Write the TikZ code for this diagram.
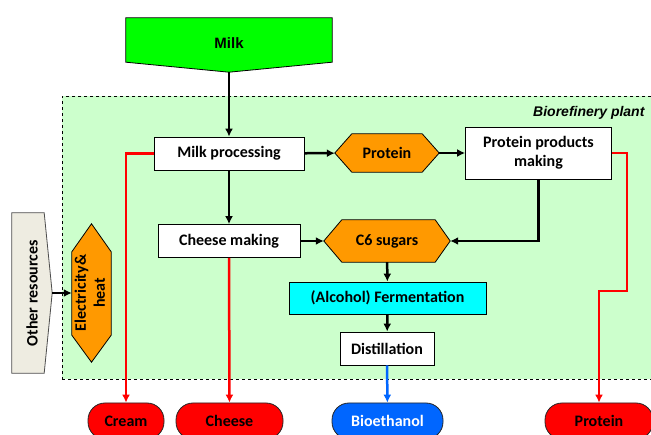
\documentclass[tikz,border=0pt]{standalone}
\usepackage{fontspec}
\setmainfont{Carlito}
\newfontfamily\arialfont{Liberation Sans}
\usepackage{graphicx}
\usetikzlibrary{positioning, arrows.meta, backgrounds}
\definecolor{plantgreen}{HTML}{CCFFCC}
\definecolor{milkgreen}{HTML}{00FF00}
\definecolor{hexorange}{HTML}{FF9900}
\definecolor{fermcyan}{HTML}{00FFFF}
\definecolor{etohblue}{HTML}{0066FF}
\definecolor{resgray}{HTML}{EEECE1}

\begin{document}
\begin{tikzpicture}[x=1pt, y=-1pt, font=\fontsize{16}{19}\selectfont\bfseries,
    procbox/.style={draw, fill=white, line width=0.8pt, inner sep=2pt, align=center},
    shapetext/.style={inner sep=0pt, align=center},
    outline/.style={draw, line width=0.8pt},
    product/.style={draw=black!85, rounded corners=17pt, minimum height=36pt, line width=0.8pt, inner sep=0pt},
    flow/.style={line width=2.5pt, arrows={-Latex[width=8pt, length=8pt]}},
    outflow/.style={flow, red},
    etohflow/.style={flow, etohblue}]
      \clip (0,0) rectangle (651,435);
      \node[font=\fontsize{14}{16}\selectfont\arialfont\bfseries\itshape, anchor=east] at (648,113) (plantlabel) {Biorefinery plant};

      \node[shapetext, minimum width=206pt, minimum height=54pt, font=\fontsize{15}{17}\selectfont\arialfont\bfseries] at (229,45) (milk) {\raisebox{4pt}{Milk}};

      \node[procbox, minimum width=150pt, minimum height=33pt] at (229,153.5) (milkproc) {Milk processing};
      \node[shapetext, minimum width=104pt, minimum height=38pt] at (387,153) (protein) {Protein};
      \node[procbox, minimum width=146pt, minimum height=52pt] at (538.5,153) (protmk) {Protein products\\making};
      \node[procbox, minimum width=142pt, minimum height=33pt] at (229,241) (cheesemk) {Cheese making};
      \node[shapetext, minimum width=126pt, minimum height=42pt] at (387,241) (sugars) {C6 sugars};
      \node[procbox, fill=fermcyan, minimum width=197pt, minimum height=32pt] at (387.5,298) (ferm) {(Alcohol) Fermentation};
      \node[procbox, minimum width=94pt, minimum height=33pt] at (387,348.5) (distil) {Distillation};

      \node[shapetext, minimum width=39pt, minimum height=138pt] at (91.5,293) (elec) {\rotatebox{90}{\begin{tabular}{@{}c@{}}Electricity\&\\heat\end{tabular}}};
      \node[shapetext, minimum width=40pt, minimum height=160pt] at (32,293) (resources) {\rotatebox{90}{Other resources}};

      % products
      \node[product, fill=red, minimum width=76pt] at (126,421) (cream) {Cream};
      \node[product, fill=red, minimum width=107pt] at (229.5,421) (cheese) {Cheese};
      \node[product, fill=etohblue, text=white, minimum width=111pt] at (387.5,421) (bioeth) {Bioethanol};
      \node[product, fill=red, minimum width=108pt] at (599,421) (protout) {Protein};
      \coordinate (jog) at (627,291);

      \begin{scope}[on background layer]
        \node[draw, dashed, fill=plantgreen, line width=0.5pt, minimum width=600pt, minimum height=283pt, anchor=north west] at (62,96) (plant) {};
        \draw[outline, fill=milkgreen] (milk.north west) -- (milk.north east) -- ([yshift=10pt]milk.south east) -- (milk.south) -- ([yshift=10pt]milk.south west) -- cycle;
        \draw[outline, fill=hexorange] ([xshift=17pt]protein.north west) -- ([xshift=-17pt]protein.north east) -- (protein.east) -- ([xshift=-17pt]protein.south east) -- ([xshift=17pt]protein.south west) -- (protein.west) -- cycle;
        \draw[outline, fill=hexorange] ([xshift=18pt]sugars.north west) -- ([xshift=-15pt]sugars.north east) -- (sugars.east) -- ([xshift=-15pt]sugars.south east) -- ([xshift=18pt]sugars.south west) -- (sugars.west) -- cycle;
        \draw[outline, fill=hexorange] (elec.north) -- ([yshift=-28pt]elec.north east) -- ([yshift=27pt]elec.south east) -- (elec.south) -- ([yshift=27pt]elec.south west) -- ([yshift=-28pt]elec.north west) -- cycle;
        \draw[outline, draw=black!70, fill=resgray] (resources.north west) -- ([xshift=-8pt]resources.north east) -- (resources.east) -- ([xshift=-8pt]resources.south east) -- (resources.south west) -- cycle;
      \end{scope}

      \draw[flow] (milk.south) -- (milkproc);
      \draw[flow] (milkproc) -- (cheesemk);
      \draw[flow] (milkproc) -- (protein);
      \draw[flow] (protein) -- (protmk);
      \draw[flow] (cheesemk) -- (sugars);
      \draw[flow] (protmk) |- (sugars);
      \draw[flow] (sugars) -- (ferm);
      \draw[flow] (ferm) -- (distil);
      \draw[flow] (resources) -- (elec);

      \draw[outflow] (milkproc) -| (cream);
      \draw[outflow] (cheesemk) -- (cheese);
      \draw[outflow] (protmk.east) -| (jog) -| (protout);
      \draw[etohflow] (distil) -- (bioeth);
\end{tikzpicture}
\end{document}
